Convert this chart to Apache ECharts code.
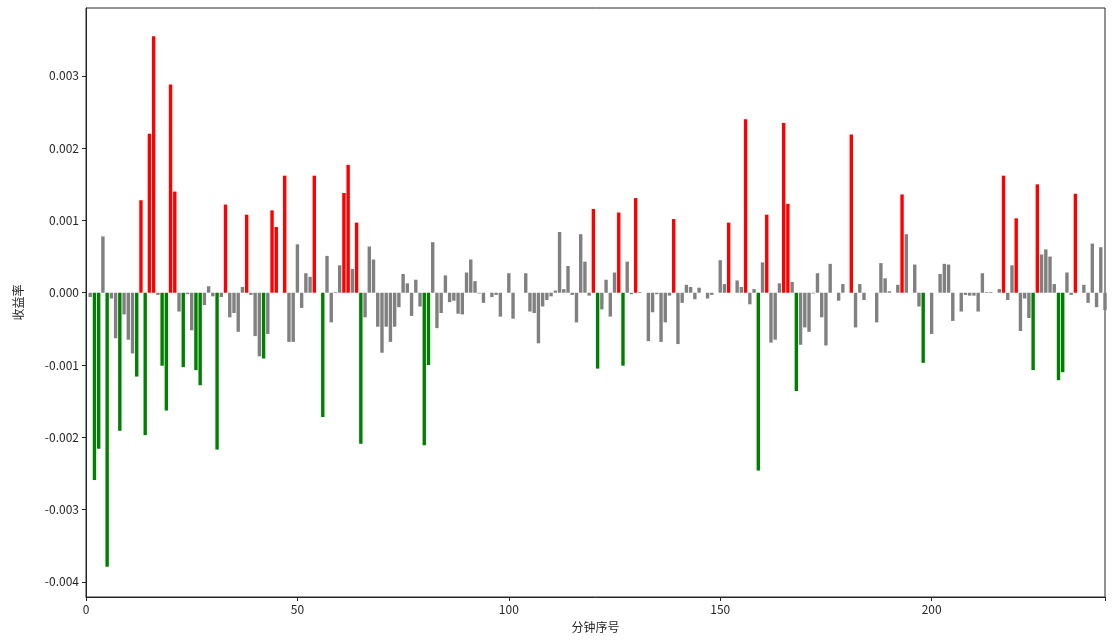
<!DOCTYPE html>
<html>
<head>
<meta charset="utf-8">
<script src="https://cdn.jsdelivr.net/npm/echarts@6/dist/echarts.min.js"></script>
<style>
  html, body { margin: 0; padding: 0; background: #fff; }
  #minuteReturnChart { width: 1113px; height: 642px; }
</style>
</head>
<body>
<div id="minuteReturnChart"></div>
<script>
// 每分钟收益率，分钟序号从 1 开始
const returns = [
  -0.00006, -0.00259, -0.00216, 0.00078, -0.00379, -0.00008, -0.00063, -0.00191, -0.00030, -0.00065,
  -0.00084, -0.00116, 0.00128, -0.00197, 0.00220, 0.00355, -0.00003, -0.00101, -0.00163, 0.00288,
  0.00140, -0.00026, -0.00103, -0.00002, -0.00052, -0.00107, -0.00128, -0.00017, 0.00009, -0.00005,
  -0.00217, -0.00006, 0.00122, -0.00034, -0.00028, -0.00054, 0.00008, 0.00108, -0.00003, -0.00060,
  -0.00088, -0.00091, -0.00057, 0.00114, 0.00091, 0, 0.00162, -0.00068, -0.00068, 0.00067,
  -0.00021, 0.00027, 0.00022, 0.00162, 0, -0.00172, 0.00051, -0.00041, 0.00001, 0.00038,
  0.00138, 0.00177, 0.00033, 0.00097, -0.00209, -0.00034, 0.00064, 0.00046, -0.00047, -0.00083,
  -0.00047, -0.00068, -0.00047, -0.00020, 0.00026, 0.00013, -0.00032, 0.00018, -0.00019, -0.00211,
  -0.00100, 0.00070, -0.00049, -0.00028, 0.00024, -0.00013, -0.00011, -0.00029, -0.00030, 0.00028,
  0.00046, 0.00016, -0.00001, -0.00014, 0, -0.00006, -0.00003, -0.00033, 0, 0.00027,
  -0.00036, 0, 0, 0.00027, -0.00026, -0.00028, -0.00070, -0.00019, -0.00010, -0.00005,
  0.00003, 0.00084, 0.00005, 0.00037, -0.00003, -0.00041, 0.00081, 0.00043, -0.00004, 0.00116,
  -0.00105, -0.00023, 0.00018, -0.00033, 0.00028, 0.00111, -0.00101, 0.00043, -0.00002, 0.00131,
  0.00001, 0, -0.00067, -0.00027, -0.00002, -0.00068, -0.00041, -0.00004, 0.00102, -0.00071,
  -0.00014, 0.00011, 0.00008, -0.00009, 0.00007, 0, -0.00008, -0.00003, 0, 0.00045,
  0.00012, 0.00097, 0, 0.00017, 0.00008, 0.00240, -0.00016, 0.00005, -0.00246, 0.00042,
  0.00108, -0.00069, -0.00065, 0.00013, 0.00235, 0.00123, 0.00015, -0.00136, -0.00072, -0.00048,
  -0.00054, -0.00001, 0.00027, -0.00034, -0.00073, 0.00040, 0, -0.00011, 0.00012, 0,
  0.00219, -0.00048, 0.00012, -0.00010, 0, 0, -0.00041, 0.00041, 0.00020, 0.00002,
  0, 0.00011, 0.00136, 0.00081, 0, 0.00039, -0.00019, -0.00097, 0, -0.00057,
  0, 0.00026, 0.00040, 0.00039, -0.00039, 0, -0.00026, -0.00003, -0.00004, -0.00004,
  -0.00026, 0.00027, 0.00001, 0.00001, 0, 0.00005, 0.00162, -0.00010, 0.00038, 0.00103,
  -0.00053, -0.00008, -0.00035, -0.00107, 0.00150, 0.00053, 0.00060, 0.00050, 0.00012, -0.00121,
  -0.00110, 0.00028, -0.00003, 0.00137, 0, 0.00011, -0.00014, 0.00068, -0.00020, 0.00063,
  -0.00024
]
const xTicks = [0, 50, 100, 150, 200]
const yTicks = [-0.004, -0.003, -0.002, -0.001, 0, 0.001, 0.002, 0.003]
const threshold = 0.0009

const chartDom = document.getElementById('minuteReturnChart')
const myChart = echarts.init(chartDom, null, { renderer: 'canvas' })

const barData = returns.map((v, i) => {
  let color = '#808080'
  if (v >= threshold) color = '#ff0000'
  else if (v <= -threshold) color = '#008000'
  return { value: [i + 1, v], itemStyle: { color: color } }
})

const labelFont = { fontFamily: 'Noto Sans CJK SC', fontSize: 12, color: '#262626' }

const option = {
  animation: false,
  backgroundColor: '#fff',
  grid: {
    left: 86, right: 8, top: 8, bottom: 45,
    show: true, borderColor: '#262626', borderWidth: 1, backgroundColor: 'transparent'
  },
  xAxis: {
    type: 'value',
    min: 0,
    max: 241,
    interval: 50,
    name: '分钟序号',
    nameLocation: 'middle',
    nameGap: 24,
    nameTextStyle: labelFont,
    axisLine: { onZero: false, lineStyle: { color: '#262626' } },
    axisTick: { length: 4, lineStyle: { color: '#262626' } },
    axisLabel: Object.assign({ margin: 6, formatter: v => xTicks.includes(v) ? String(v) : '' }, labelFont),
    splitLine: { show: false }
  },
  yAxis: {
    type: 'value',
    min: -0.00421,
    max: 0.00394,
    splitNumber: 8,
    name: '收益率',
    nameLocation: 'middle',
    nameGap: 62,
    nameRotate: 90,
    nameTextStyle: labelFont,
    axisLine: { show: true, lineStyle: { color: '#262626' } },
    axisTick: { length: 4, lineStyle: { color: '#262626' } },
    axisLabel: Object.assign({
      margin: 7,
      showMinLabel: false,
      showMaxLabel: false,
      formatter: v => {
        const hit = yTicks.find(t => Math.abs(t - v) < 1e-9)
        return hit === undefined ? '' : hit.toFixed(3)
      }
    }, labelFont),
    splitLine: { show: false }
  },
  series: [
    {
      type: 'bar',
      barWidth: 3.4,
      data: barData
    }
  ]
}
myChart.setOption(option)
</script>
</body>
</html>
